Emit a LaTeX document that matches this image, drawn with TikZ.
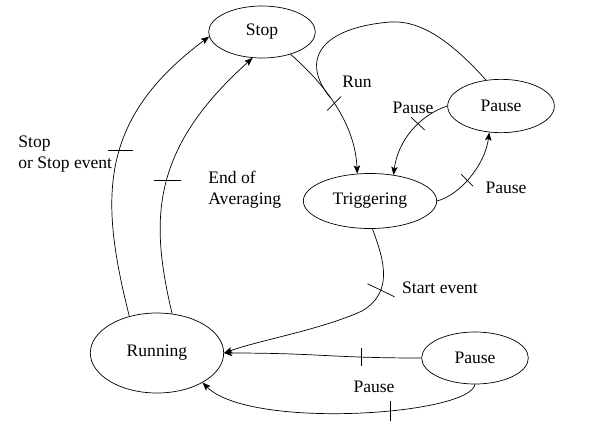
\documentclass[tikz,border=0pt]{standalone}
\usepackage{fontspec}
\setmainfont{Liberation Serif}
\usetikzlibrary{shapes.geometric,arrows.meta}

\begin{document}
\begin{tikzpicture}[x=0.03cm,y=-0.03cm,line width=0.6pt,
  font=\fontsize{15}{18}\selectfont,
  state/.style={ellipse,draw,inner sep=0pt},
  trans/.style={-{Stealth[length=7pt,width=5.5pt,inset=1.5pt]}}]
\useasboundingbox (0,0) rectangle (616,439);

% states
\node[state,minimum width=3.2cm,minimum height=1.56cm] (stop) at (262,32) {Stop};
\node[state,minimum width=4.0cm,minimum height=1.65cm] (trig) at (370,201) {Triggering};
\node[state,minimum width=3.2cm,minimum height=1.6cm] (ptop) at (501,106) {Pause};
\node[state,minimum width=4.0cm,minimum height=2.4cm] (run) at (157,353) {Running};
\node[state,minimum width=3.2cm,minimum height=1.56cm] (pbot) at (475,358) {Pause};

% transitions
\draw[trans] (run.127) .. controls (100,200) and (97,120) .. (stop.185) coordinate[pos=.55] (t1);
\draw[trans] (run.69) .. controls (150,220) and (150,150) .. (stop.250) coordinate[pos=.52] (t2);
\draw[trans] (stop.322) .. controls (320,80) and (355,120) .. (trig.115)
  coordinate[pos=.45] (merge) coordinate[pos=.5] (t3);
\draw (ptop.120) .. controls (450,40) and (420,20) .. (390,22)
  .. controls (320,28) and (300,60) .. (merge);
\draw[trans] (ptop.west) .. controls (420,115) and (398,140) .. (trig.48) coordinate[pos=.4] (t5);
\draw[trans] (trig.east) .. controls (460,195) and (485,165) .. (ptop.246) coordinate[pos=.45] (t6);
\draw[trans] (trig.275) .. controls (384,260) and (394,292) .. (362,311) coordinate[pos=.7] (t7)
  .. controls (320,330) and (260,340) .. (run.east);
\draw[trans] (pbot.west) .. controls (330,358) and (320,353) .. (run.east) coordinate[pos=.27] (t8);
\draw[trans] (pbot.south) .. controls (470,415) and (250,430) .. (run.327) coordinate[pos=.4] (t9);

% ticks
\draw ([shift={(-12,0)}]t1) -- ([shift={(13,0)}]t1);
\draw ([shift={(-13,0)}]t2) -- ([shift={(14,0)}]t2);
\draw ([shift={(-7,7)}]t3) -- ([shift={(7,-7)}]t3);
\draw ([shift={(-7,-7)}]t5) -- ([shift={(7,6)}]t5);
\draw ([shift={(-6,-6)}]t6) -- ([shift={(6,6)}]t6);
\draw ([shift={(-13,-7)}]t7) -- ([shift={(14,6)}]t7);
\draw ([shift={(0,-9)}]t8) -- ([shift={(0,9)}]t8);
\draw ([shift={(0,-10)}]t9) -- ([shift={(0,10)}]t9);

% labels
\node[anchor=west,align=left,inner sep=0pt] (lstop) at (18,154) {Stop\\or Stop event};
\node[anchor=west,align=left,inner sep=0pt] (lend) at (208,190) {End of\\Averaging};
\node (lrun) at (357,82) {Run};
\node (lp1) at (413,108) {Pause};
\node (lp2) at (506,188) {Pause};
\node (lstart) at (440,288) {Start event};
\node (lp3) at (374,387) {Pause};
\end{tikzpicture}
\end{document}
